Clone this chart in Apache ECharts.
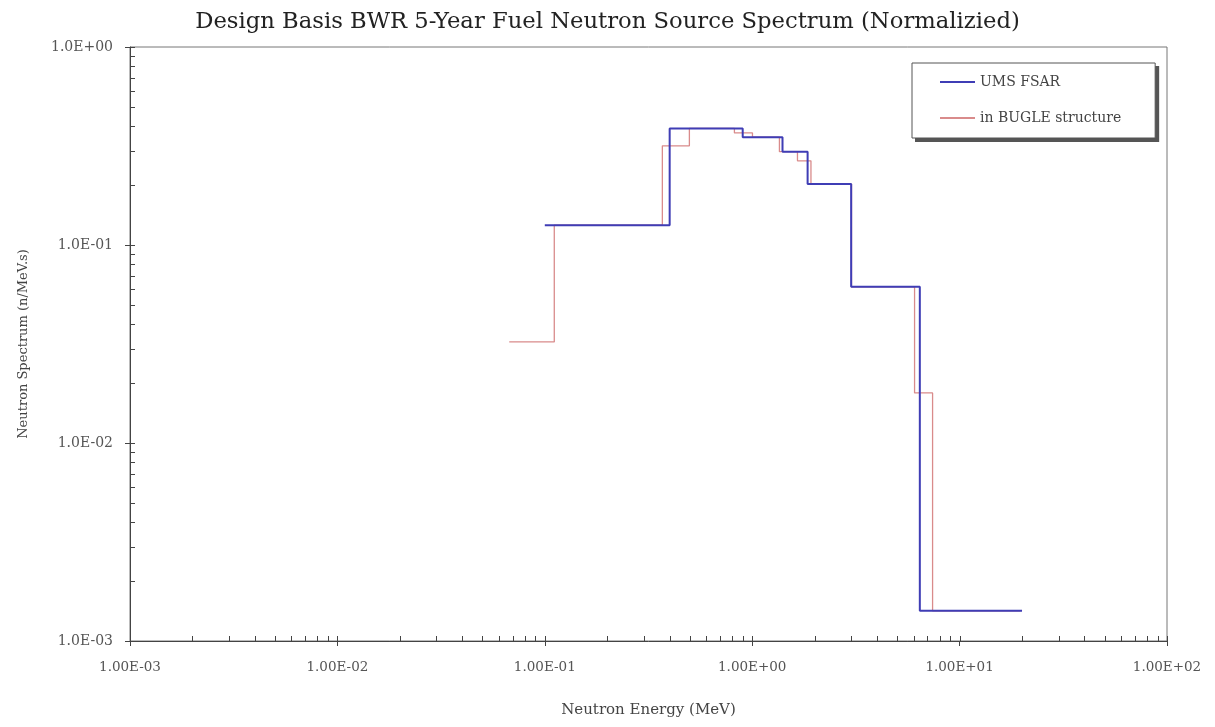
<!DOCTYPE html>
<html>
<head>
<meta charset="utf-8">
<script src="https://cdn.jsdelivr.net/npm/echarts@6/dist/echarts.min.js"></script>
<style>
html,body{margin:0;padding:0;background:#fff;}
#chart{width:1215px;height:727px;}
</style>
</head>
<body>
<div id="chart"></div>
<script>
// ---- data ----
var chartTitle = 'Design Basis BWR 5-Year Fuel Neutron Source Spectrum (Normalizied)';
var xAxisName = 'Neutron Energy (MeV)';
var yAxisName = 'Neutron Spectrum (n/MeV.s)';
var seriesNames = ['UMS FSAR', 'in BUGLE structure'];

// group boundaries (MeV) and normalized spectrum values per group
var umsEdges  = [0.1, 0.4, 0.9, 1.4, 1.85, 3.0, 6.43, 20];
var umsValues = [0.126, 0.388, 0.350, 0.296, 0.203, 0.0615, 0.00142];

var bugleEdges  = [0.06738, 0.1111, 0.3688, 0.4979, 0.8208, 1.003, 1.353, 1.653, 1.920, 3.012, 6.065, 7.408, 19.64];
var bugleValues = [0.0324, 0.126, 0.317, 0.388, 0.368, 0.350, 0.296, 0.266, 0.203, 0.0615, 0.0179, 0.00142];

var xTickLabels = ['1.00E-03', '1.00E-02', '1.00E-01', '1.00E+00', '1.00E+01', '1.00E+02'];
var yTickLabels = ['1.0E-03', '1.0E-02', '1.0E-01', '1.0E+00'];

// ---- helpers ----
function stepPoints(edges, values) {
  var pts = [];
  for (var i = 0; i < values.length; i++) pts.push([edges[i], values[i]]);
  pts.push([edges[edges.length - 1], values[values.length - 1]]);
  return pts;
}

var FONT = 'DejaVu Serif';
var LEGEND_LEFT = 912, LEGEND_TOP = 63;
var chart = echarts.init(document.getElementById('chart'), null, {renderer: 'canvas'});

var option = {
  animation: false,
  backgroundColor: '#ffffff',
  title: {
    text: chartTitle,
    left: 'center',
    top: 6,
    textStyle: {fontFamily: FONT, fontSize: 22.7, fontWeight: 'normal', color: '#222'}
  },
  grid: {
    left: 130, right: 48, top: 47, bottom: 86,
    show: true, borderColor: '#777', borderWidth: 1
  },
  legend: {
    data: seriesNames,
    orient: 'vertical',
    left: LEGEND_LEFT, top: LEGEND_TOP,
    z: 10,
    icon: 'rect',
    itemWidth: 35, itemHeight: 2,
    itemGap: 22,
    padding: [12, 34, 13, 28],
    backgroundColor: '#fff',
    borderColor: '#555', borderWidth: 1,
    textStyle: {fontFamily: FONT, fontSize: 14, color: '#444'}
  },
  xAxis: {
    type: 'log', logBase: 10, min: 0.001, max: 100,
    name: xAxisName, nameLocation: 'middle', nameGap: 62,
    nameTextStyle: {fontFamily: FONT, fontSize: 15, color: '#444'},
    axisLine: {show: true, lineStyle: {color: '#444', width: 1}},
    axisTick: {show: true, inside: false, length: 5, lineStyle: {color: '#444'}},
    axisLabel: {
      margin: 19, fontFamily: FONT, fontSize: 13.5, color: '#555',
      formatter: function (v) { return xTickLabels[Math.round(Math.log10(v)) + 3]; }
    },
    splitLine: {show: false}
  },
  yAxis: {
    type: 'log', logBase: 10, min: 0.001, max: 1,
    name: yAxisName, nameLocation: 'middle', nameGap: 100,
    nameTextStyle: {fontFamily: FONT, fontSize: 13, color: '#444'},
    axisLine: {show: true, lineStyle: {color: '#444', width: 1}},
    axisTick: {show: true, inside: false, length: 5, lineStyle: {color: '#444'}},
    axisLabel: {
      margin: 17, fontFamily: FONT, fontSize: 14, color: '#555',
      formatter: function (v) { return yTickLabels[Math.round(Math.log10(v)) + 3]; }
    },
    splitLine: {show: false}
  },
  series: [
    {
      name: seriesNames[0], type: 'line', step: 'end', z: 4,
      showSymbol: false, symbol: 'none',
      color: '#3f3db5',
      lineStyle: {color: '#3f3db5', width: 2},
      data: stepPoints(umsEdges, umsValues)
    },
    {
      name: seriesNames[1], type: 'line', step: 'end', z: 3,
      showSymbol: false, symbol: 'none',
      color: '#d98b8b',
      lineStyle: {color: '#d98b8b', width: 1.3},
      data: stepPoints(bugleEdges, bugleValues)
    }
  ]
};
chart.setOption(option);

// minor ticks (2..9 per decade) + inner half of major ticks, placed through the axis scales
(function addDecor() {
  var els = [];
  var x0 = chart.convertToPixel({xAxisIndex: 0}, 0.001);
  var y0 = chart.convertToPixel({yAxisIndex: 0}, 0.001);
  var tickStyle = {stroke: '#444', lineWidth: 1};
  for (var k = -3; k <= 2; k++) {
    var base = Math.pow(10, k);
    var xp = Math.round(chart.convertToPixel({xAxisIndex: 0}, base)) + 0.5;
    els.push({type: 'line', silent: true, shape: {x1: xp, y1: y0, x2: xp, y2: y0 - 5}, style: tickStyle});
    if (k < 2) {
      for (var m = 2; m <= 9; m++) {
        var xm = Math.round(chart.convertToPixel({xAxisIndex: 0}, m * base)) + 0.5;
        els.push({type: 'line', silent: true, shape: {x1: xm, y1: y0, x2: xm, y2: y0 - 5}, style: tickStyle});
      }
    }
  }
  for (var j = -3; j <= 0; j++) {
    var b = Math.pow(10, j);
    var yp = Math.round(chart.convertToPixel({yAxisIndex: 0}, b)) + 0.5;
    els.push({type: 'line', silent: true, shape: {x1: x0, y1: yp, x2: x0 + 5, y2: yp}, style: tickStyle});
    if (j < 0) {
      for (var n = 2; n <= 9; n++) {
        var ym = Math.round(chart.convertToPixel({yAxisIndex: 0}, n * b)) + 0.5;
        els.push({type: 'line', silent: true, shape: {x1: x0, y1: ym, x2: x0 + 5, y2: ym}, style: tickStyle});
      }
    }
  }
  // drop shadow behind the legend box, sized from the rendered legend
  var lw = 243, lh = 75;
  try {
    var comps = chart._componentsViews || [];
    for (var c = 0; c < comps.length; c++) {
      var v = comps[c];
      if (v && v.type && v.type.indexOf('legend') === 0 && v.group) {
        var r = v.group.getBoundingRect();
        if (r && r.width > 0) { lw = r.width; lh = r.height; }
      }
    }
  } catch (e) {}
  els.push({type: 'rect', silent: true, z: 1,
    shape: {x: LEGEND_LEFT + 3, y: LEGEND_TOP + 3, width: lw, height: lh},
    style: {fill: '#555'}});
  chart.setOption({graphic: {elements: els}});
})();
</script>
</body>
</html>
